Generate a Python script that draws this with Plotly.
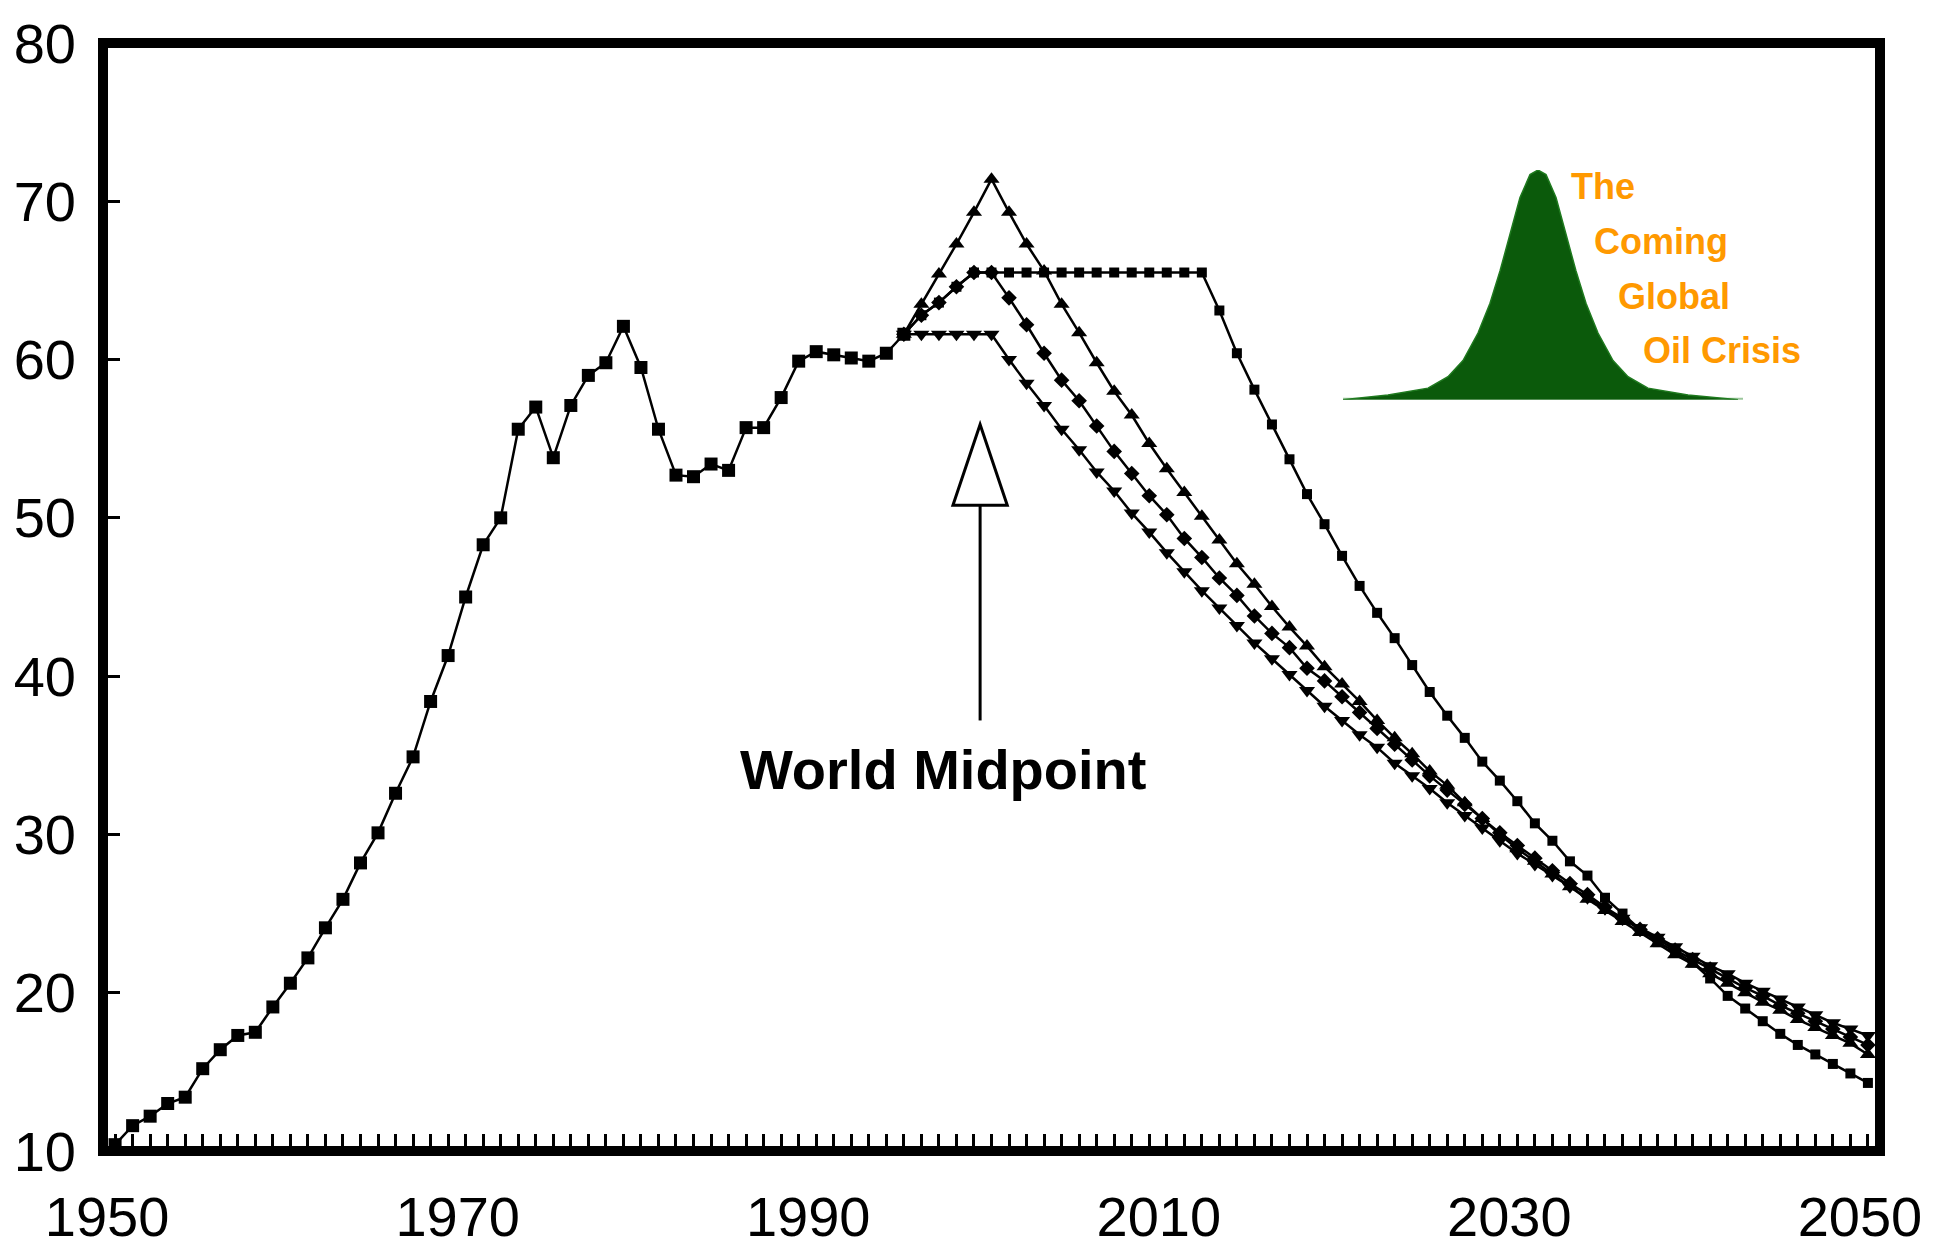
import plotly.graph_objects as go

# ---------------- data ----------------
hist_years = list(range(1950, 1996))
hist_vals = [10.4, 11.6, 12.2, 13.0, 13.4, 15.2, 16.4, 17.3, 17.5, 19.1,
             20.6, 22.2, 24.1, 25.9, 28.2, 30.1, 32.6, 34.9, 38.4, 41.3,
             45.0, 48.3, 50.0, 55.6, 57.0, 53.8, 57.1, 59.0, 59.8, 62.1,
             59.5, 55.6, 52.7, 52.6, 53.4, 53.0, 55.7, 55.7, 57.6, 59.9,
             60.5, 60.3, 60.1, 59.9, 60.4, 61.6]

proj_years = list(range(1995, 2051))

# peak 2000 (triangles up)
scen_a = [61.6, 63.5, 65.4, 67.3, 69.3,
          71.4, 69.3, 67.3, 65.6, 63.5, 61.7, 59.8, 58.0, 56.5, 54.7,
          53.1, 51.6, 50.1, 48.6, 47.1, 45.8, 44.4, 43.1, 41.9, 40.6,
          39.5, 38.4, 37.2, 36.1, 35.1, 34.0, 33.1, 32.0, 31.0, 30.0,
          29.1, 28.3, 27.5, 26.7, 25.9, 25.2, 24.5, 23.8, 23.1, 22.4,
          21.8, 21.2, 20.6, 20.0, 19.4, 18.9, 18.3, 17.8, 17.3, 16.8,
          16.1]

# plateau to 2012 (small squares)
scen_b = [61.6, 62.8, 63.6, 64.6, 65.5,
          65.5, 65.5, 65.5, 65.5, 65.5, 65.5, 65.5, 65.5, 65.5, 65.5,
          65.5, 65.5, 65.5, 63.1, 60.4, 58.1, 55.9, 53.7, 51.5, 49.6,
          47.6, 45.7, 44.0, 42.4, 40.7, 39.0, 37.5, 36.1, 34.6, 33.4,
          32.1, 30.7, 29.6, 28.3, 27.4, 26.0, 25.0, 24.0, 23.2, 22.6,
          21.9, 20.9, 19.8, 19.0, 18.2, 17.4, 16.7, 16.1, 15.5, 14.9,
          14.3]

# peak 2000 at 65.5 (diamonds)
scen_c = [61.6, 62.8, 63.6, 64.6, 65.5,
          65.5, 63.9, 62.2, 60.4, 58.7, 57.4, 55.8, 54.2, 52.8, 51.4,
          50.2, 48.7, 47.5, 46.2, 45.1, 43.8, 42.7, 41.8, 40.5, 39.7,
          38.7, 37.7, 36.7, 35.7, 34.7, 33.7, 32.8, 31.9, 31.0, 30.1,
          29.3, 28.5, 27.7, 26.9, 26.2, 25.4, 24.7, 24.0, 23.4, 22.7,
          22.1, 21.5, 20.9, 20.3, 19.8, 19.2, 18.7, 18.2, 17.7, 17.2,
          16.7]

# plateau 61.6 to 2000 (triangles down)
scen_d = [61.6, 61.6, 61.6, 61.6, 61.6,
          61.6, 60.0, 58.5, 57.1, 55.6, 54.3, 52.9, 51.7, 50.3, 49.1,
          47.8, 46.6, 45.4, 44.3, 43.2, 42.1, 41.1, 40.1, 39.1, 38.1,
          37.2, 36.3, 35.5, 34.5, 33.7, 32.9, 32.0, 31.2, 30.4, 29.6,
          28.8, 28.1, 27.4, 26.7, 26.0, 25.3, 24.7, 24.1, 23.5, 22.9,
          22.3, 21.7, 21.2, 20.6, 20.1, 19.6, 19.1, 18.6, 18.1, 17.7,
          17.3]

x_tick_vals = [1950, 1970, 1990, 2010, 2030, 2050]
x_tick_text = ["1950", "1970", "1990", "2010", "2030", "2050"]
y_tick_vals = [10, 20, 30, 40, 50, 60, 70, 80]
y_tick_text = ["10", "20", "30", "40", "50", "60", "70", "80"]

midpoint_label = "World Midpoint"
logo_lines = ["The", "Coming", "Global", "Oil Crisis"]

# logo bell outline (offset from centre, relative height)
bell_x = [-195, -150, -110, -90, -75, -60, -48, -38, -28, -18, -8, 0,
          8, 18, 28, 38, 48, 60, 75, 90, 110, 150, 200]
bell_h = [0.0, 0.02, 0.05, 0.10, 0.17, 0.29, 0.42, 0.56, 0.72, 0.88, 0.98, 1.0,
          0.98, 0.88, 0.72, 0.56, 0.42, 0.29, 0.17, 0.10, 0.05, 0.02, 0.0]

# ---------------- layout geometry ----------------
W, H = 1946, 1260
# plot edges = centre of the thick frame
PLOT_L, PLOT_R, PLOT_T, PLOT_B = 103, 1880, 37, 1171
X_RANGE = [1949.31, 2050.69]
Y_RANGE = [10, 80]

FONT = "Liberation Sans Narrow, Arial Narrow, Liberation Sans, Arial, sans-serif"


def px_x(px):
    return (px - PLOT_L) / (PLOT_R - PLOT_L)


def px_y(py):
    return (PLOT_B - py) / (PLOT_B - PLOT_T)


fig = go.Figure()

line_style = dict(color="black", width=2.5)

fig.add_trace(go.Scatter(x=proj_years, y=scen_d, mode="lines+markers",
                         line=line_style,
                         marker=dict(symbol="triangle-down", size=14, color="black")))
fig.add_trace(go.Scatter(x=proj_years, y=scen_c, mode="lines+markers",
                         line=line_style,
                         marker=dict(symbol="diamond", size=12, color="black")))
fig.add_trace(go.Scatter(x=proj_years, y=scen_a, mode="lines+markers",
                         line=line_style,
                         marker=dict(symbol="triangle-up", size=14, color="black")))
fig.add_trace(go.Scatter(x=proj_years, y=scen_b, mode="lines+markers",
                         line=line_style,
                         marker=dict(symbol="square", size=10, color="black")))
fig.add_trace(go.Scatter(x=hist_years, y=hist_vals, mode="lines+markers",
                         line=line_style,
                         marker=dict(symbol="square", size=13, color="black")))

# logo bell on its own small axes
fig.add_trace(go.Scatter(x=[-195, 205], y=[0, 0], mode="lines",
                         line=dict(color="#9cc79c", width=4),
                         xaxis="x2", yaxis="y2"))
fig.add_trace(go.Scatter(x=bell_x, y=bell_h, mode="lines", fill="toself",
                         fillcolor="#0b5a0b", line=dict(color="#1f7a1f", width=1.5),
                         xaxis="x2", yaxis="y2"))

# World Midpoint arrow (data coordinates)
ARROW_X = 1999.35
ARROW_HALF = 1.55
ARROW_TIP = 55.9
ARROW_BASE = 50.8
ARROW_FOOT = 37.2
fig.add_shape(type="line", x0=ARROW_X, x1=ARROW_X, y0=ARROW_FOOT, y1=ARROW_BASE,
              line=dict(color="black", width=3), layer="below")
fig.add_shape(type="path",
              path=f"M {ARROW_X - ARROW_HALF},{ARROW_BASE} L {ARROW_X},{ARROW_TIP} "
                   f"L {ARROW_X + ARROW_HALF},{ARROW_BASE} Z",
              line=dict(color="black", width=3), fillcolor="white", layer="below")

# thick frame centred on the plot edges
fig.add_shape(type="rect", xref="paper", yref="paper", x0=0, x1=1, y0=0, y1=1,
              line=dict(color="black", width=10), fillcolor="rgba(0,0,0,0)",
              layer="above")

annotations = [
    dict(text=f"<b>{midpoint_label}</b>", x=px_x(943), y=px_y(781),
         xref="paper", yref="paper", xanchor="center", yanchor="middle",
         showarrow=False, font=dict(family=FONT, size=56, color="black")),
]
logo_pos = [(1569, 184), (1592, 240), (1616, 296), (1641, 352)]
for txt, (lx, ly) in zip(logo_lines, logo_pos):
    annotations.append(dict(text=f"<b>{txt}</b>", x=px_x(lx), y=px_y(ly),
                            xref="paper", yref="paper", xanchor="left", yanchor="middle",
                            showarrow=False,
                            font=dict(family=FONT, size=36, color="#ff9900")))

fig.update_layout(
    width=W, height=H,
    margin=dict(l=PLOT_L, r=W - PLOT_R, t=PLOT_T, b=H - PLOT_B, pad=0),
    paper_bgcolor="white", plot_bgcolor="white",
    showlegend=False,
    annotations=annotations,
    xaxis=dict(range=X_RANGE, tickmode="array", tickvals=x_tick_vals, ticktext=x_tick_text,
               ticks="inside", ticklen=17, tickwidth=3, tickcolor="black",
               minor=dict(dtick=1, tick0=1950, ticks="inside", ticklen=17, tickwidth=3,
                          tickcolor="black", showgrid=False),
               showline=False, showgrid=False, zeroline=False,
               ticklabelshift=-8, ticklabelstandoff=28,
               tickfont=dict(family=FONT, size=56, color="black")),
    yaxis=dict(range=Y_RANGE, tickmode="array", tickvals=y_tick_vals, ticktext=y_tick_text,
               ticks="inside", ticklen=17, tickwidth=3, tickcolor="black",
               showline=False, showgrid=False, zeroline=False, ticklabelstandoff=26,
               tickfont=dict(family=FONT, size=56, color="black")),
    xaxis2=dict(domain=[px_x(1343), px_x(1743)], range=[-195, 205], anchor="y2",
                visible=False, fixedrange=True),
    yaxis2=dict(domain=[px_y(402), px_y(167)], range=[0, 1], anchor="x2",
                visible=False, fixedrange=True),
)

fig.write_html(
    "out.html",
    config={"displayModeBar": False},
    post_script="document.body.style.margin='0';document.body.style.padding='0';"
                "document.documentElement.style.overflow='hidden';",
)
